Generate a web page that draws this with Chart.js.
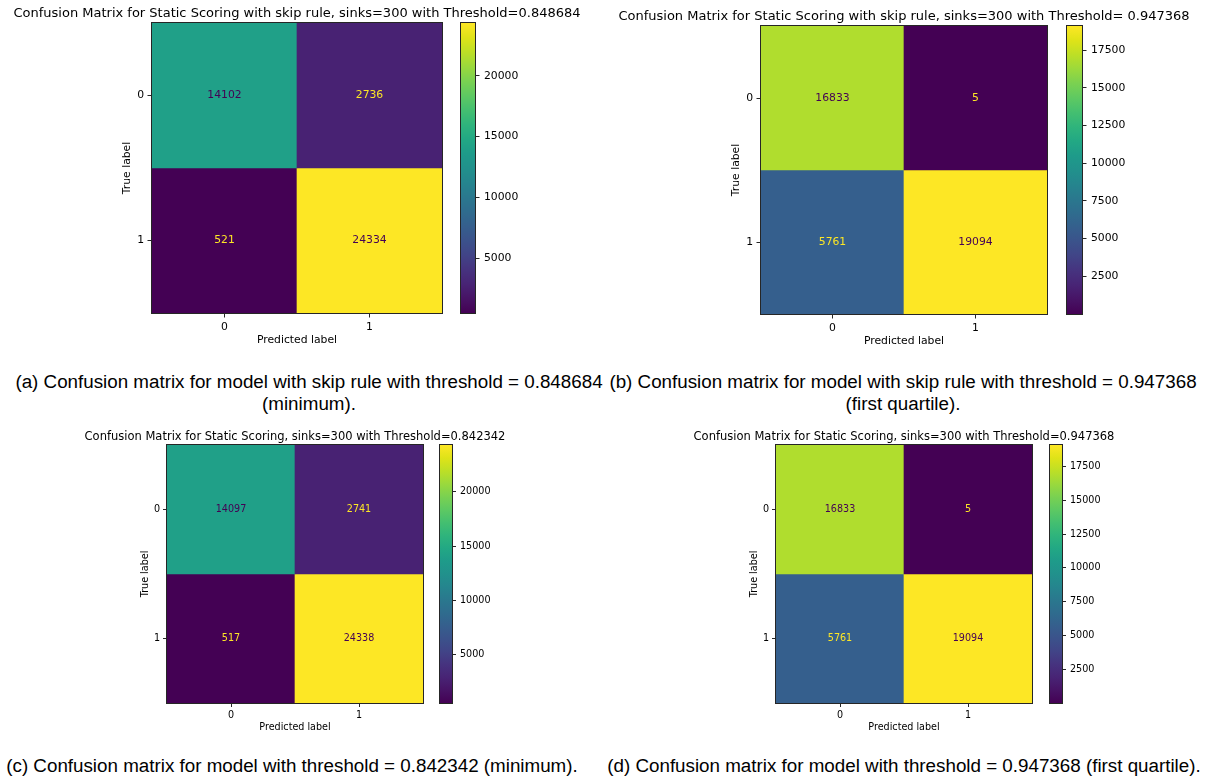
<!DOCTYPE html>
<html>
<head>
<meta charset="utf-8">
<script src="https://cdn.jsdelivr.net/npm/chart.js@4/dist/chart.umd.min.js"></script>
<style>
  html, body { margin: 0; padding: 0; background: #fff; }
  #fig { position: relative; width: 1209px; height: 780px; overflow: hidden; background: #fff; }
  #fig canvas { position: absolute; }
  .cap { position: absolute; font-family: "Liberation Sans", Arial, sans-serif; font-size: 18.8px;
         line-height: 22px; color: #000; text-align: center; white-space: nowrap; }
</style>
</head>
<body>
<div id="fig">
  <canvas id="matA"></canvas><canvas id="barA"></canvas>
  <canvas id="matB"></canvas><canvas id="barB"></canvas>
  <canvas id="matC"></canvas><canvas id="barC"></canvas>
  <canvas id="matD"></canvas><canvas id="barD"></canvas>
  <div class="cap" style="left:0px;width:618px;top:371px">(a) Confusion matrix for model with skip rule with threshold = 0.848684<br>(minimum).</div>
  <div class="cap" style="left:600px;width:606px;top:371px">(b) Confusion matrix for model with skip rule with threshold = 0.947368<br>(first quartile).</div>
  <div class="cap" style="left:0px;width:584px;top:755px">(c) Confusion matrix for model with threshold = 0.842342 (minimum).</div>
  <div class="cap" style="left:604px;width:600px;top:755px">(d) Confusion matrix for model with threshold = 0.947368 (first quartile).</div>
</div>
<script>
// Class labels shared by both axes (true label rows, predicted label columns)
const classLabels = ['0', '1'];

// Confusion matrix counts, rows = true label, columns = predicted label
const skipRuleMinCounts = [[14102, 2736], [521, 24334]];
const skipRuleQ1Counts  = [[16833, 5], [5761, 19094]];
const plainMinCounts    = [[14097, 2741], [517, 24338]];
const plainQ1Counts     = [[16833, 5], [5761, 19094]];

// Colorbar tick values
const skipRuleMinTicks = [5000, 10000, 15000, 20000];
const skipRuleQ1Ticks  = [2500, 5000, 7500, 10000, 12500, 15000, 17500];
const plainMinTicks    = [5000, 10000, 15000, 20000];
const plainQ1Ticks     = [2500, 5000, 7500, 10000, 12500, 15000, 17500];

// Panel titles
const skipRuleMinTitle = 'Confusion Matrix for Static Scoring with skip rule, sinks=300 with Threshold=0.848684';
const skipRuleQ1Title  = 'Confusion Matrix for Static Scoring with skip rule, sinks=300 with Threshold= 0.947368';
const plainMinTitle    = 'Confusion Matrix for Static Scoring, sinks=300 with Threshold=0.842342';
const plainQ1Title     = 'Confusion Matrix for Static Scoring, sinks=300 with Threshold=0.947368';

// ---- viridis colormap ----
const VIRIDIS = ['#440154','#471365','#482475','#46337f','#414487','#3b528b','#355f8d','#2f6c8e',
  '#2a788e','#25858e','#21918c','#1e9b8a','#22a884','#2fb47c','#44bf70','#5ec962','#7ad151',
  '#9bd93c','#bddf26','#dfe318','#fde725'];
function hexRgb(h) { return [1, 3, 5].map(i => parseInt(h.slice(i, i + 2), 16)); }
function viridis(t) {
  t = Math.min(1, Math.max(0, t));
  const p = t * (VIRIDIS.length - 1);
  const i = Math.min(Math.floor(p), VIRIDIS.length - 2);
  const f = p - i;
  const a = hexRgb(VIRIDIS[i]), b = hexRgb(VIRIDIS[i + 1]);
  return 'rgb(' + a.map((v, k) => Math.round(v + (b[k] - v) * f)).join(',') + ')';
}

const FONT = "'DejaVu Sans', sans-serif";
const INK = '#262626';

function placeCanvas(id, x, y, w, h) {
  const c = document.getElementById(id);
  c.width = w; c.height = h;
  c.style.left = x + 'px'; c.style.top = y + 'px';
  c.style.width = w + 'px'; c.style.height = h + 'px';
  return c;
}

// Outline around the plotting area (axes spines)
const framePlugin = {
  id: 'frame',
  afterDatasetsDraw(chart) {
    const a = chart.chartArea, ctx = chart.ctx;
    const l = Math.round(a.left), t = Math.round(a.top), r = Math.round(a.right), b = Math.round(a.bottom);
    ctx.save();
    ctx.strokeStyle = INK;
    ctx.lineWidth = 1;
    ctx.strokeRect(l - 0.5, t - 0.5, r - l + 1, b - t + 1);
    ctx.restore();
  }
};

// Axes title centred over the plotting area
function headingPlugin(text, size, gap) {
  return {
    id: 'heading',
    afterDraw(chart) {
      const a = chart.chartArea, ctx = chart.ctx;
      ctx.save();
      ctx.font = size + 'px ' + FONT;
      ctx.fillStyle = '#000';
      ctx.textAlign = 'center';
      ctx.textBaseline = 'alphabetic';
      ctx.fillText(text, (a.left + a.right) / 2, a.top - gap);
      ctx.restore();
    }
  };
}

// Count annotations centred in every cell
function cellTextPlugin(counts, size) {
  const flat = counts.flat();
  const lo = Math.min(...flat), hi = Math.max(...flat);
  const thresh = (lo + hi) / 2;
  return {
    id: 'cellText',
    afterDatasetsDraw(chart) {
      const ctx = chart.ctx;
      ctx.save();
      ctx.font = size + 'px ' + FONT;
      ctx.textAlign = 'center';
      ctx.textBaseline = 'middle';
      chart.data.datasets.forEach((ds, r) => {
        chart.getDatasetMeta(r).data.forEach((bar, c) => {
          const v = counts[r][c];
          ctx.fillStyle = v < thresh ? viridis(1) : viridis(0);
          ctx.fillText(String(v), bar.x, (bar.y + bar.base) / 2);
        });
      });
      ctx.restore();
    }
  };
}

function axisGrid(fs) {
  return { display: true, drawOnChartArea: false, drawTicks: true, tickLength: fs.tick,
           tickWidth: 1, tickColor: INK, offset: false };
}

function drawMatrix(id, box, geo, counts, title, fs) {
  const [cx, cy, cw, ch] = box;
  const [L, T, R, B] = geo.mat;
  const lhL = fs.label * 1.2;
  const yAxisW = L - geo.trueX + lhL / 2;
  const xAxisH = geo.predY + lhL / 2 - B;
  const flat = counts.flat();
  const lo = Math.min(...flat), hi = Math.max(...flat);
  const canvas = placeCanvas(id, cx, cy, cw, ch);
  const tickFont = { family: FONT, size: fs.label };
  new Chart(canvas, {
    type: 'bar',
    data: {
      labels: classLabels,
      datasets: classLabels.map((lab, r) => ({
        label: 'True ' + lab,
        data: classLabels.map(() => [r - 0.5, r + 0.5]),
        backgroundColor: counts[r].map(v => viridis((v - lo) / (hi - lo))),
        borderWidth: 0,
        grouped: false,
        barPercentage: 1,
        categoryPercentage: 1
      }))
    },
    options: {
      responsive: false, animation: false, devicePixelRatio: 1,
      layout: { padding: { left: L - cx - yAxisW, right: cx + cw - R, top: T - cy, bottom: cy + ch - B - xAxisH } },
      plugins: { legend: { display: false }, tooltip: { enabled: false } },
      scales: {
        x: {
          type: 'category', offset: true,
          grid: axisGrid(fs), border: { display: false },
          ticks: { color: '#000', font: tickFont, padding: fs.pad, maxRotation: 0, autoSkip: false },
          title: { display: true, text: 'Predicted label', color: '#000',
                   font: { family: FONT, size: fs.label, lineHeight: 1.2 }, padding: 0 },
          afterFit(s) { s.height = xAxisH; }
        },
        y: {
          type: 'linear', reverse: true, min: -0.5, max: 1.5, bounds: 'data',
          afterBuildTicks(s) { s.ticks = classLabels.map((_, i) => ({ value: i })); },
          grid: axisGrid(fs), border: { display: false },
          ticks: { color: '#000', font: tickFont, padding: fs.pad, callback: v => classLabels[v] },
          title: { display: true, text: 'True label', color: '#000',
                   font: { family: FONT, size: fs.label, lineHeight: 1.2 }, padding: 0 },
          afterFit(s) { s.width = yAxisW; }
        }
      }
    },
    plugins: [framePlugin, cellTextPlugin(counts, fs.cell), headingPlugin(title, fs.title, fs.titleGap)]
  });
}

function drawColorbar(id, top, height, geo, counts, tickValues, fs) {
  const [, T, , B] = geo.mat;
  const [cbL, cbR] = geo.cb;
  const cx = cbL - 4, cw = 84;
  const axisW = 62;
  const flat = counts.flat();
  const lo = Math.min(...flat), hi = Math.max(...flat);
  const canvas = placeCanvas(id, cx, top, cw, height);
  new Chart(canvas, {
    type: 'bar',
    data: {
      labels: ['scale'],
      datasets: [{
        data: [[lo, hi]],
        backgroundColor(ctx) {
          const chart = ctx.chart;
          if (!chart.chartArea) return VIRIDIS[10];
          const ys = chart.scales.y;
          const g = chart.ctx.createLinearGradient(0, ys.getPixelForValue(lo), 0, ys.getPixelForValue(hi));
          VIRIDIS.forEach((c, i) => g.addColorStop(i / (VIRIDIS.length - 1), c));
          return g;
        },
        borderWidth: 0, barPercentage: 1, categoryPercentage: 1
      }]
    },
    options: {
      responsive: false, animation: false, devicePixelRatio: 1,
      layout: { padding: { left: cbL - cx, right: cx + cw - cbR - axisW, top: T - top, bottom: top + height - B } },
      plugins: { legend: { display: false }, tooltip: { enabled: false } },
      scales: {
        x: { display: false },
        y: {
          position: 'right', min: lo, max: hi, bounds: 'data',
          afterBuildTicks(s) { s.ticks = tickValues.map(v => ({ value: v })); },
          grid: axisGrid(fs), border: { display: false },
          ticks: { color: '#000', font: { family: FONT, size: fs.label }, padding: fs.pad + 1, callback: v => String(v) },
          afterFit(s) { s.width = axisW; }
        }
      }
    },
    plugins: [framePlugin]
  });
}

const topFont = { title: 13, label: 10.8, cell: 10.8, tick: 4.5, pad: 3.5, titleGap: 6 };
const bottomFont = { title: 11.5, label: 9.6, cell: 9.6, tick: 4, pad: 3, titleGap: 5.5 };

const geoA = { mat: [152, 23, 442, 313], cb: [461, 475], trueX: 127, predY: 340 };
const geoB = { mat: [761, 26, 1047, 314], cb: [1067, 1082], trueX: 736, predY: 341 };
const geoC = { mat: [167, 445, 423, 703], cb: [440, 452], trueX: 145, predY: 727 };
const geoD = { mat: [776, 445, 1032, 703], cb: [1050, 1062], trueX: 754, predY: 727 };

drawMatrix('matA', [0, 0, 594, 355], geoA, skipRuleMinCounts, skipRuleMinTitle, topFont);
drawColorbar('barA', 0, 355, geoA, skipRuleMinCounts, skipRuleMinTicks, topFont);
drawMatrix('matB', [604, 0, 600, 355], geoB, skipRuleQ1Counts, skipRuleQ1Title, topFont);
drawColorbar('barB', 0, 355, geoB, skipRuleQ1Counts, skipRuleQ1Ticks, topFont);
drawMatrix('matC', [0, 420, 590, 320], geoC, plainMinCounts, plainMinTitle, bottomFont);
drawColorbar('barC', 420, 320, geoC, plainMinCounts, plainMinTicks, bottomFont);
drawMatrix('matD', [604, 420, 600, 320], geoD, plainQ1Counts, plainQ1Title, bottomFont);
drawColorbar('barD', 420, 320, geoD, plainQ1Counts, plainQ1Ticks, bottomFont);
</script>
</body>
</html>
